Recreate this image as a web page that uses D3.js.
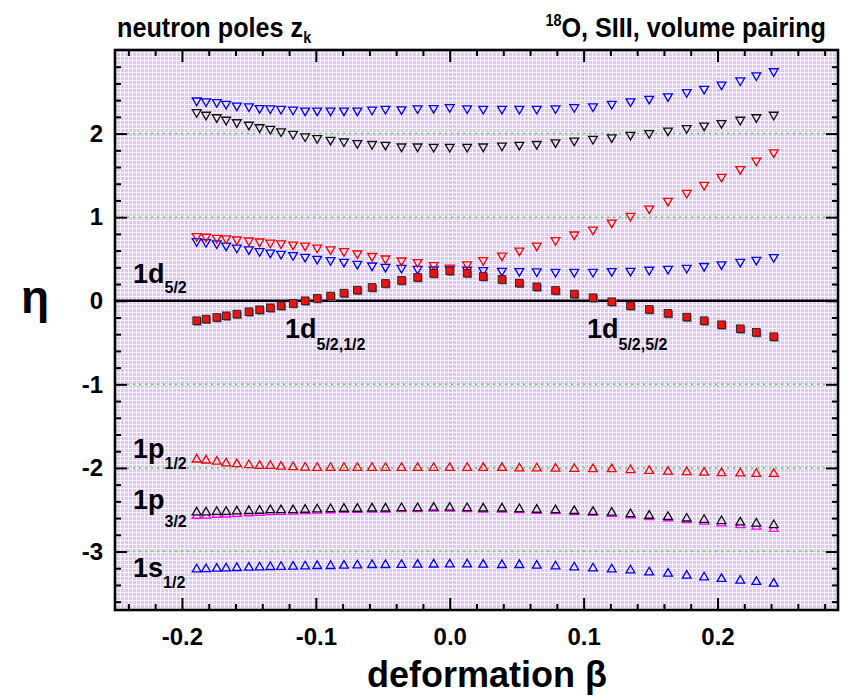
<!DOCTYPE html>
<html>
<head>
<meta charset="utf-8">
<script src="https://cdn.jsdelivr.net/npm/d3@7"></script>
<style>
html,body{margin:0;padding:0;background:#fff;}
svg{display:block;font-family:"Liberation Sans",Arial,Helvetica,sans-serif;font-weight:bold;}
</style>
</head>
<body>
<svg id="chart" width="846" height="697"></svg>
<script>
// ---------------- data ----------------
const beta = [-0.189,-0.182,-0.174,-0.167,-0.159,-0.150,-0.142,-0.134,-0.126,-0.117,-0.108,-0.099,-0.089,-0.079,-0.069,-0.058,-0.048,-0.036,-0.024,-0.012,0.000,0.013,0.025,0.039,0.052,0.065,0.079,0.093,0.107,0.121,0.135,0.149,0.163,0.177,0.190,0.203,0.217,0.229,0.242];

const upperBlue  = [2.38,2.37,2.36,2.34,2.32,2.31,2.29,2.285,2.28,2.27,2.26,2.26,2.26,2.26,2.26,2.27,2.28,2.275,2.285,2.29,2.30,2.285,2.28,2.28,2.28,2.28,2.285,2.30,2.31,2.34,2.37,2.40,2.43,2.48,2.52,2.57,2.62,2.68,2.73];
const upperBlack = [2.24,2.21,2.18,2.15,2.12,2.09,2.06,2.04,2.01,1.98,1.95,1.93,1.91,1.89,1.87,1.86,1.85,1.83,1.83,1.825,1.825,1.825,1.83,1.84,1.85,1.86,1.88,1.90,1.92,1.94,1.97,1.99,2.02,2.05,2.08,2.11,2.15,2.18,2.21];
const midRed     = [0.757,0.75,0.737,0.73,0.717,0.705,0.693,0.68,0.67,0.657,0.645,0.62,0.60,0.577,0.55,0.52,0.49,0.466,0.446,0.41,0.38,0.42,0.47,0.525,0.585,0.645,0.71,0.777,0.836,0.92,1.00,1.087,1.18,1.275,1.37,1.466,1.56,1.66,1.76];
const midBlue    = [0.697,0.685,0.67,0.645,0.62,0.60,0.577,0.56,0.546,0.53,0.51,0.486,0.47,0.45,0.426,0.406,0.39,0.378,0.366,0.358,0.358,0.355,0.35,0.343,0.34,0.335,0.33,0.33,0.33,0.34,0.343,0.355,0.366,0.378,0.40,0.42,0.45,0.474,0.506];
const d52        = [-0.239,-0.219,-0.2,-0.18,-0.16,-0.131,-0.108,-0.084,-0.06,-0.032,0,0.028,0.056,0.092,0.127,0.159,0.207,0.243,0.279,0.327,0.358,0.33,0.29,0.255,0.211,0.167,0.123,0.08,0.036,-0.012,-0.06,-0.104,-0.151,-0.195,-0.239,-0.287,-0.335,-0.378,-0.43];
const p12Red     = [-1.884,-1.896,-1.91,-1.93,-1.94,-1.95,-1.96,-1.96,-1.97,-1.975,-1.98,-1.983,-1.983,-1.983,-1.983,-1.983,-1.983,-1.983,-1.983,-1.983,-1.983,-1.983,-1.985,-1.985,-1.99,-1.99,-1.993,-1.995,-2.0,-2.0,-2.01,-2.02,-2.03,-2.035,-2.04,-2.047,-2.05,-2.055,-2.055];
const p32Black   = [-2.517,-2.517,-2.51,-2.51,-2.505,-2.50,-2.497,-2.49,-2.49,-2.49,-2.485,-2.48,-2.477,-2.473,-2.473,-2.47,-2.47,-2.465,-2.465,-2.46,-2.46,-2.465,-2.47,-2.47,-2.477,-2.485,-2.49,-2.50,-2.51,-2.52,-2.537,-2.557,-2.57,-2.59,-2.605,-2.62,-2.637,-2.65,-2.668];
const p32Magenta = [-2.557,-2.555,-2.545,-2.542,-2.535,-2.527,-2.522,-2.512,-2.51,-2.508,-2.501,-2.495,-2.491,-2.485,-2.485,-2.482,-2.482,-2.477,-2.477,-2.472,-2.472,-2.477,-2.482,-2.482,-2.489,-2.497,-2.502,-2.512,-2.522,-2.533,-2.551,-2.572,-2.587,-2.61,-2.628,-2.647,-2.668,-2.686,-2.713];
const s12Blue    = [-3.198,-3.195,-3.19,-3.186,-3.182,-3.178,-3.174,-3.17,-3.168,-3.166,-3.162,-3.158,-3.158,-3.154,-3.15,-3.146,-3.146,-3.144,-3.142,-3.14,-3.138,-3.138,-3.142,-3.146,-3.146,-3.154,-3.162,-3.174,-3.186,-3.198,-3.21,-3.234,-3.25,-3.274,-3.294,-3.313,-3.333,-3.349,-3.37];

const xMajor = [-0.2,-0.1,0.0,0.1,0.2];
const xTickLabels = ["-0.2","-0.1","0.0","0.1","0.2"];
const yMajor = [-3,-2,-1,0,1,2];
const yTickLabels = ["-3","-2","-1","0","1","2"];
const xDomain = [-0.25,0.29];
const yDomain = [-3.7,3.0];

// ---------------- layout ----------------
const L=115, R=838, T=50, B=610;
const svg = d3.select("#chart");
const x = d3.scaleLinear().domain(xDomain).range([L,R]);
const y = d3.scaleLinear().domain(yDomain).range([B,T]);

const defs = svg.append("defs");
const pat = defs.append("pattern").attr("id","bg").attr("width",4).attr("height",4).attr("patternUnits","userSpaceOnUse");
pat.append("rect").attr("width",4).attr("height",4).attr("fill","#e0c6fa");
pat.append("rect").attr("width",4).attr("height",1).attr("fill","#f9f5ff");
pat.append("rect").attr("width",1).attr("height",4).attr("fill","#f9f5ff");
defs.append("clipPath").attr("id","clip").append("rect").attr("x",L).attr("y",T).attr("width",R-L).attr("height",B-T);

svg.append("rect").attr("x",L).attr("y",T).attr("width",R-L).attr("height",B-T).attr("fill","url(#bg)");

const plot = svg.append("g").attr("clip-path","url(#clip)");

// vertical faint gray dotted grid at major x
plot.selectAll("line.vg").data(xMajor).enter().append("line")
  .attr("x1",d=>x(d)).attr("x2",d=>x(d)).attr("y1",T).attr("y2",B)
  .attr("stroke","#a8a0b0").attr("stroke-width",1).attr("stroke-dasharray","1,3").attr("opacity",0.7);
// green dotted horizontal grid
plot.selectAll("line.hg").data(yMajor.filter(d=>d!==0)).enter().append("line")
  .attr("x1",L).attr("x2",R).attr("y1",d=>y(d)).attr("y2",d=>y(d))
  .attr("stroke","#44e044").attr("stroke-width",1.5).attr("stroke-dasharray","2,4");
// zero line
plot.append("line").attr("x1",L).attr("x2",R).attr("y1",y(0)).attr("y2",y(0))
  .attr("stroke","#000").attr("stroke-width",2.6);

// marker paths
function triUp(cx,cy){const w=4.4,h=3.8;return `M${cx-w},${cy+h}L${cx+w},${cy+h}L${cx},${cy-h}Z`;}
function triDown(cx,cy){const w=4.4,h=3.8;return `M${cx-w},${cy-h}L${cx+w},${cy-h}L${cx},${cy+h}Z`;}

function drawTri(vals, color, up, fill){
  const g = plot.append("g");
  g.selectAll("path").data(vals).enter().append("path")
    .attr("d",(v,i)=> up ? triUp(x(beta[i]),y(v)) : triDown(x(beta[i]),y(v)))
    .attr("fill",fill||"none").attr("stroke",color).attr("stroke-width",1.3).attr("stroke-linejoin","miter");
}

drawTri(upperBlue,"#0000ff",false);
drawTri(upperBlack,"#111",false);
drawTri(midBlue,"#0000ff",false);
drawTri(midRed,"#ff0000",false);

// squares with shadow
const sq = plot.append("g");
sq.selectAll("rect.sh").data(d52).enter().append("rect")
  .attr("x",(v,i)=>x(beta[i])-3.8+1.2).attr("y",v=>y(v)-3.8+1.2).attr("width",7.6).attr("height",7.6)
  .attr("fill","#7a7088");
sq.selectAll("rect.m").data(d52).enter().append("rect")
  .attr("x",(v,i)=>x(beta[i])-3.8).attr("y",v=>y(v)-3.8).attr("width",7.6).attr("height",7.6)
  .attr("fill","#f01010").attr("stroke","#222").attr("stroke-width",0.9);

drawTri(p12Red,"#ff0000",true);
drawTri(p32Magenta,"#ff00ff",true);
drawTri(p32Black,"#111",true,"#e8d6fb");
drawTri(s12Blue,"#0000ff",true);

// ---------------- axes ----------------
function styleAxis(g){
  g.select(".domain").remove();
  g.selectAll(".tick line").attr("stroke","#000").attr("stroke-width",2);
  g.selectAll("text").attr("font-size",24).attr("font-weight","bold").attr("fill","#000")
    .attr("font-family","'Liberation Sans',Arial,sans-serif");
}
const xMinor = d3.range(-0.24,0.285,0.02).filter(v=>!xMajor.some(m=>Math.abs(m-v)<1e-6));
const yMinor = d3.range(-3.6,2.95,0.2).filter(v=>Math.abs(v-Math.round(v))>1e-6);

svg.append("g").attr("transform",`translate(0,${B})`)
  .call(d3.axisBottom(x).tickValues(xMajor).tickFormat((d,i)=>xTickLabels[i]).tickSize(-12).tickPadding(18)).call(styleAxis);
svg.append("g").attr("transform",`translate(0,${B})`)
  .call(d3.axisBottom(x).tickValues(xMinor).tickFormat("").tickSize(-6)).call(styleAxis);
svg.append("g").attr("transform",`translate(0,${T})`)
  .call(d3.axisTop(x).tickValues(xMajor).tickFormat("").tickSize(-12)).call(styleAxis);
svg.append("g").attr("transform",`translate(0,${T})`)
  .call(d3.axisTop(x).tickValues(xMinor).tickFormat("").tickSize(-6)).call(styleAxis);

svg.append("g").attr("transform",`translate(${L},0)`)
  .call(d3.axisLeft(y).tickValues(yMajor).tickFormat((d,i)=>yTickLabels[i]).tickSize(-12).tickPadding(12)).call(styleAxis);
svg.append("g").attr("transform",`translate(${L},0)`)
  .call(d3.axisLeft(y).tickValues(yMinor).tickFormat("").tickSize(-6)).call(styleAxis);
svg.append("g").attr("transform",`translate(${R},0)`)
  .call(d3.axisRight(y).tickValues(yMajor).tickFormat("").tickSize(-12)).call(styleAxis);
svg.append("g").attr("transform",`translate(${R},0)`)
  .call(d3.axisRight(y).tickValues(yMinor).tickFormat("").tickSize(-6)).call(styleAxis);

// frame
svg.append("rect").attr("x",L).attr("y",T).attr("width",R-L).attr("height",B-T)
  .attr("fill","none").attr("stroke","#000").attr("stroke-width",2.6);

// ---------------- texts ----------------
function subLabel(xp, yp, main, sub, subDy, size, subSize){
  const t = svg.append("text").attr("x",xp).attr("y",yp).attr("font-size",size).attr("font-weight","bold").attr("fill","#000");
  t.append("tspan").text(main);
  t.append("tspan").attr("dy",subDy).attr("font-size",subSize).text(sub);
  return t;
}
subLabel(133,283,"1d","5/2",10,27,16);
subLabel(285,338,"1d","5/2,1/2",12,27,16);
subLabel(587,338,"1d","5/2,5/2",12,27,16);
subLabel(133,458,"1p","1/2",11,27,16);
subLabel(133,509,"1p","3/2",18,27,16);
subLabel(133,577,"1s","1/2",11,27,16);

// titles (slightly condensed, taller glyphs)
const lt = svg.append("g").attr("transform","translate(117,37) scale(0.9,1)");
const ltt = lt.append("text").attr("x",0).attr("y",0).attr("font-size",28).attr("font-weight","bold");
ltt.append("tspan").text("neutron poles z");
ltt.append("tspan").attr("dy",6).attr("font-size",16).text("k");

const rg = svg.append("g").attr("transform","translate(826,37) scale(0.9,1)");
const rt = rg.append("text").attr("x",0).attr("y",0).attr("text-anchor","end").attr("font-size",28).attr("font-weight","bold");
rt.append("tspan").attr("font-size",16).attr("dy",-11).text("18");
rt.append("tspan").attr("dy",11).text("O, SIII, volume pairing");

// axis titles
svg.append("text").attr("x",367).attr("y",687).attr("font-size",36).attr("font-weight","bold").text("deformation β");
svg.append("text").attr("x",21).attr("y",313).attr("font-size",46).attr("font-weight","bold").text("η");
</script>
</body>
</html>
